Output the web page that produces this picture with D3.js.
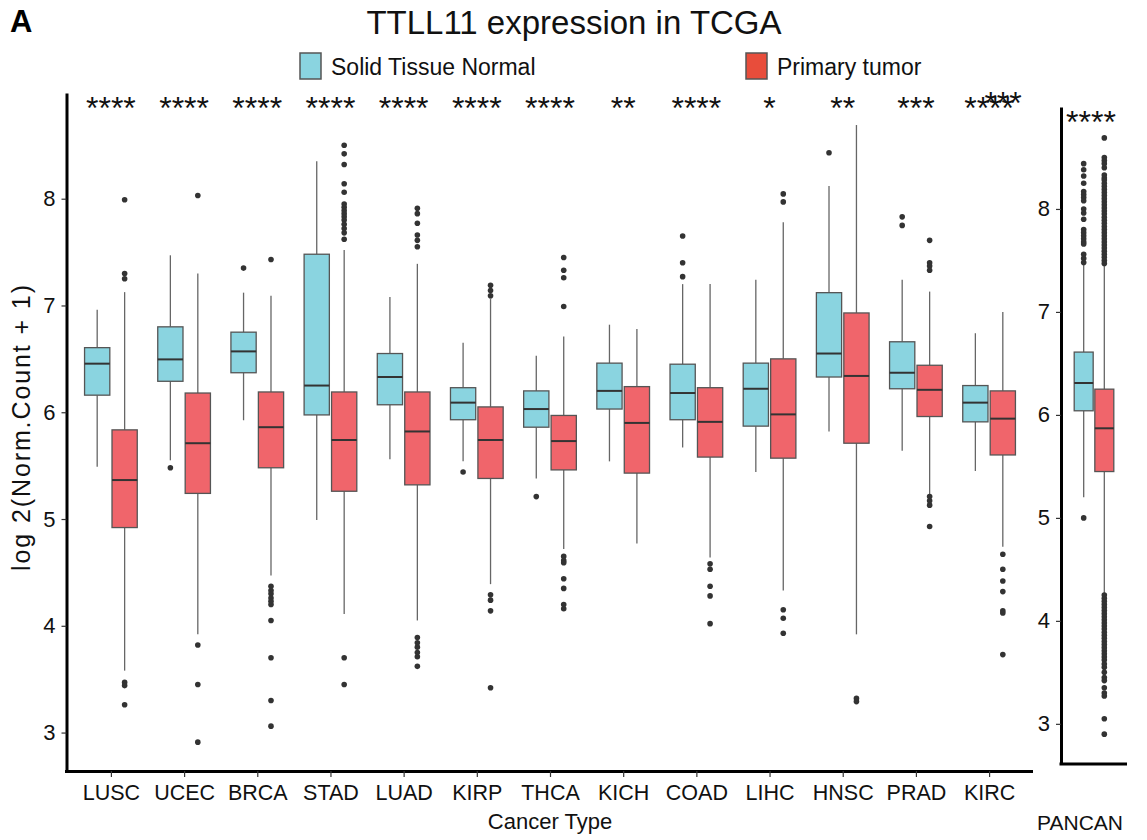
<!DOCTYPE html>
<html>
<head>
<meta charset="utf-8">
<script src="https://cdn.jsdelivr.net/npm/d3@7"></script>
<style>
  html, body { margin: 0; padding: 0; background: #fff; }
  svg { display: block; font-family: "Liberation Sans", Arial, Helvetica, sans-serif; }
</style>
</head>
<body>
<svg id="chart" width="1147" height="840"></svg>
<script>
// ---- data -----------------------------------------------------------
const categories = ["LUSC","UCEC","BRCA","STAD","LUAD","KIRP","THCA","KICH","COAD","LIHC","HNSC","PRAD","KIRC"];
const signif = ["****","****","****","****","****","****","****","**","****","*","**","***","****"];
const groups = ["Solid Tissue Normal", "Primary tumor"];
const yTicks = [3, 4, 5, 6, 7, 8];

// five-number summaries: [lower whisker, Q1, median, Q3, upper whisker]
const normalBoxes = [
  [5.49, 6.16, 6.455, 6.605, 6.96],
  [5.55, 6.29, 6.495, 6.80, 7.47],
  [5.925, 6.37, 6.57, 6.75, 7.12],
  [4.99, 5.975, 6.25, 7.48, 8.35],
  [5.56, 6.07, 6.33, 6.55, 7.08],
  [5.54, 5.93, 6.09, 6.23, 6.65],
  [5.38, 5.86, 6.03, 6.20, 6.53],
  [5.54, 6.03, 6.20, 6.46, 6.82],
  [5.67, 5.93, 6.18, 6.45, 7.20],
  [5.44, 5.87, 6.22, 6.46, 7.24],
  [5.82, 6.33, 6.55, 7.12, 8.12],
  [5.64, 6.22, 6.37, 6.66, 7.24],
  [5.45, 5.91, 6.09, 6.25, 6.74]
];
const normalOutliers = [
  [], [5.48], [7.35], [], [], [5.44], [5.21], [], [7.65, 7.40, 7.27], [], [8.43], [7.83, 7.75], []
];
const tumorBoxes = [
  [3.58, 4.92, 5.365, 5.835, 7.125],
  [3.92, 5.24, 5.71, 6.18, 7.30],
  [4.47, 5.48, 5.86, 6.19, 7.09],
  [4.11, 5.26, 5.74, 6.19, 7.52],
  [4.05, 5.32, 5.82, 6.19, 7.39],
  [4.39, 5.38, 5.74, 6.05, 7.06],
  [4.72, 5.46, 5.73, 5.97, 6.71],
  [4.77, 5.43, 5.90, 6.24, 6.78],
  [4.64, 5.58, 5.91, 6.23, 7.20],
  [4.33, 5.57, 5.98, 6.50, 7.78],
  [3.92, 5.71, 6.34, 6.93, 8.69],
  [5.22, 5.96, 6.21, 6.44, 7.13],
  [4.74, 5.60, 5.94, 6.20, 6.94]
];
const tumorOutliers = [
  [7.99, 7.30, 7.25, 3.47, 3.44, 3.26],
  [8.03, 3.82, 3.45, 2.91],
  [7.43, 4.37, 4.33, 4.30, 4.26, 4.23, 4.20, 4.05, 3.70, 3.30, 3.06],
  [8.50, 8.42, 8.32, 8.14, 8.06, 7.95, 7.92, 7.89, 7.86, 7.83, 7.80, 7.76, 7.72, 7.68, 7.62, 3.70, 3.45],
  [7.91, 7.86, 7.77, 7.66, 7.61, 7.55, 3.89, 3.84, 3.80, 3.75, 3.71, 3.62],
  [7.19, 7.14, 7.09, 4.29, 4.24, 4.14, 3.42],
  [7.45, 7.33, 7.26, 6.99, 4.65, 4.61, 4.59, 4.44, 4.35, 4.20, 4.16],
  [],
  [4.58, 4.53, 4.37, 4.28, 4.02],
  [8.045, 7.97, 4.15, 4.07, 3.93],
  [3.32, 3.29],
  [7.61, 7.40, 7.37, 7.33, 5.21, 5.17, 5.13, 4.93],
  [4.67, 4.53, 4.42, 4.32, 4.14, 4.12, 3.73]
];

// pan-cancer panel
const pancanCategory = ["PANCAN"];
const pancanSignif = ["****"];
const pancanNormalBox = [5.20, 6.04, 6.31, 6.61, 7.46];
const pancanTumorBox = [4.27, 5.45, 5.87, 6.25, 7.46];
const pancanNormalOutliers = [8.44, 8.38, 8.32, 8.25, 8.17, 8.14, 8.11, 8.08, 8.00, 7.96, 7.90,
  7.80, 7.77, 7.74, 7.71, 7.68, 7.66, 7.56, 7.52, 7.48, 5.00];
const pancanTumorOutliers = [8.69, 8.50, 8.47, 8.44, 8.40, 8.33, 8.30, 8.28, 8.25, 8.22, 8.19,
  8.16, 8.13, 8.10, 8.07, 8.04, 8.01, 7.98, 7.95, 7.92, 7.89, 7.86, 7.83, 7.80, 7.77, 7.74,
  7.71, 7.68, 7.65, 7.62, 7.59, 7.56, 7.53, 7.50, 7.47,
  4.25, 4.22, 4.19, 4.16, 4.13, 4.10, 4.07, 4.04, 4.01, 3.98, 3.95, 3.92, 3.89, 3.86, 3.83,
  3.80, 3.77, 3.74, 3.71, 3.68, 3.65, 3.62, 3.58, 3.55, 3.50, 3.45, 3.42, 3.35, 3.30, 3.27,
  3.05, 2.90];

// ---- styling --------------------------------------------------------
const fillColor = { "Solid Tissue Normal": "#8AD4E0", "Primary tumor": "#F0656B" };
const legendColor = { "Solid Tissue Normal": "#8AD4E0", "Primary tumor": "#E84D3B" };
const signifY = 8.88;
const fontStack = "'Liberation Sans', Arial, sans-serif";

const svg = d3.select("#chart");

// ---- scales ---------------------------------------------------------
const y = d3.scaleLinear().domain([2.64, 8.99]).range([771, 93]);
const x = d3.scalePoint().domain(categories).range([67, 1033]).padding(0.6);
const inner = d3.scaleBand().domain(groups)
  .range([-0.36 * x.step(), 0.36 * x.step()]).paddingInner(0.08);

const yP = d3.scaleLinear().domain([2.61, 8.99]).range([764, 107]);
const xP = d3.scalePoint().domain(pancanCategory).range([1061, 1127]).padding(0.6);
const innerP = d3.scaleBand().domain(groups)
  .range([-0.36 * xP.step(), 0.36 * xP.step()]).paddingInner(0.08);

// ---- box drawing ----------------------------------------------------
function drawBox(g, cx, bw, stats, outliers, ys, color) {
  const [lo, q1, med, q3, hi] = stats;
  g.append("line").attr("x1", cx).attr("x2", cx).attr("y1", ys(hi)).attr("y2", ys(q3))
    .attr("stroke", "#666").attr("stroke-width", 1.3);
  g.append("line").attr("x1", cx).attr("x2", cx).attr("y1", ys(q1)).attr("y2", ys(lo))
    .attr("stroke", "#666").attr("stroke-width", 1.3);
  g.append("rect").attr("x", cx - bw / 2).attr("width", bw)
    .attr("y", ys(q3)).attr("height", ys(q1) - ys(q3))
    .attr("fill", color).attr("stroke", "#555").attr("stroke-width", 1.3);
  g.append("line").attr("x1", cx - bw / 2).attr("x2", cx + bw / 2)
    .attr("y1", ys(med)).attr("y2", ys(med))
    .attr("stroke", "#333").attr("stroke-width", 2);
  g.selectAll(null).data(outliers).enter().append("circle")
    .attr("cx", cx).attr("cy", d => ys(d)).attr("r", 2.8).attr("fill", "#333");
}

const main = svg.append("g");
categories.forEach((c, i) => {
  drawBox(main, x(c) + inner(groups[0]) + inner.bandwidth() / 2, inner.bandwidth(),
    normalBoxes[i], normalOutliers[i], y, fillColor[groups[0]]);
  drawBox(main, x(c) + inner(groups[1]) + inner.bandwidth() / 2, inner.bandwidth(),
    tumorBoxes[i], tumorOutliers[i], y, fillColor[groups[1]]);
});

const pan = svg.append("g");
drawBox(pan, xP("PANCAN") + innerP(groups[0]) + innerP.bandwidth() / 2, innerP.bandwidth(),
  pancanNormalBox, pancanNormalOutliers, yP, fillColor[groups[0]]);
drawBox(pan, xP("PANCAN") + innerP(groups[1]) + innerP.bandwidth() / 2, innerP.bandwidth(),
  pancanTumorBox, pancanTumorOutliers, yP, fillColor[groups[1]]);

// ---- axes -----------------------------------------------------------
function styleAxis(g, labelSize) {
  g.select(".domain").attr("stroke", "#000").attr("stroke-width", 3);
  g.selectAll(".tick line").attr("stroke", "#333").attr("stroke-width", 1.2);
  g.selectAll(".tick text").attr("fill", "#111").style("font-size", labelSize + "px")
    .style("font-family", fontStack);
}

const yAxis = svg.append("g").attr("transform", "translate(66.5,0)")
  .call(d3.axisLeft(y).tickValues(yTicks).tickFormat(d3.format("d"))
    .tickSize(5).tickSizeOuter(0).tickPadding(6));
styleAxis(yAxis, 22);

const xAxis = svg.append("g").attr("transform", "translate(0,771)")
  .call(d3.axisBottom(x).tickSize(6).tickSizeOuter(0).tickPadding(8));
styleAxis(xAxis, 21.5);
xAxis.select(".domain").attr("d", "M65,0.5H1033");

const yAxisP = svg.append("g").attr("transform", "translate(1061,0)")
  .call(d3.axisLeft(yP).tickValues(yTicks).tickFormat(d3.format("d"))
    .tickSize(5).tickSizeOuter(0).tickPadding(6));
styleAxis(yAxisP, 22);

svg.append("line").attr("x1", 1059.5).attr("x2", 1127).attr("y1", 764).attr("y2", 764)
  .attr("stroke", "#000").attr("stroke-width", 3);

// ---- significance marks ---------------------------------------------
const starSize = 32;
const starShift = starSize * 0.46;
svg.append("g").selectAll("text").data(categories).enter().append("text")
  .attr("x", d => x(d)).attr("y", y(signifY) + starShift)
  .attr("text-anchor", "middle").style("font-size", starSize + "px").attr("fill", "#111")
  .text((d, i) => signif[i]);
svg.append("text").attr("x", x("KIRC") + 14).attr("y", y(signifY) + starShift - 5)
  .attr("text-anchor", "middle").style("font-size", starSize + "px").attr("fill", "#111")
  .text("***");
svg.append("text").attr("x", xP("PANCAN") - 3).attr("y", yP(signifY) + starShift)
  .attr("text-anchor", "middle").style("font-size", starSize + "px").attr("fill", "#111")
  .text(pancanSignif[0]);

// ---- titles ---------------------------------------------------------
svg.append("text").attr("x", 10).attr("y", 32).style("font-size", "31px")
  .style("font-weight", "bold").text("A");
svg.append("text").attr("x", 574).attr("y", 34).attr("text-anchor", "middle")
  .style("font-size", "33px").attr("fill", "#111").text("TTLL11 expression in TCGA");

svg.append("text").attr("transform", "translate(30,428) rotate(-90)")
  .attr("text-anchor", "middle").style("font-size", "25px").attr("fill", "#111")
  .attr("textLength", 286).attr("lengthAdjust", "spacing")
  .text("log 2(Norm.Count + 1)");

svg.append("text").attr("x", 550).attr("y", 829).attr("text-anchor", "middle")
  .style("font-size", "22px").attr("fill", "#111").text("Cancer Type");
svg.append("text").attr("x", 1080).attr("y", 830).attr("text-anchor", "middle")
  .style("font-size", "21px").attr("fill", "#111").text("PANCAN");

// ---- legend ---------------------------------------------------------
const legendX = [300, 746];
const legend = svg.append("g");
groups.forEach((gname, i) => {
  legend.append("rect").attr("x", legendX[i]).attr("y", 53).attr("width", 21).attr("height", 26)
    .attr("fill", legendColor[gname]).attr("stroke", "#555").attr("stroke-width", 1.5);
  legend.append("text").attr("x", legendX[i] + 31).attr("y", 74.5)
    .style("font-size", "23px").attr("fill", "#111").text(gname);
});
</script>
</body>
</html>
